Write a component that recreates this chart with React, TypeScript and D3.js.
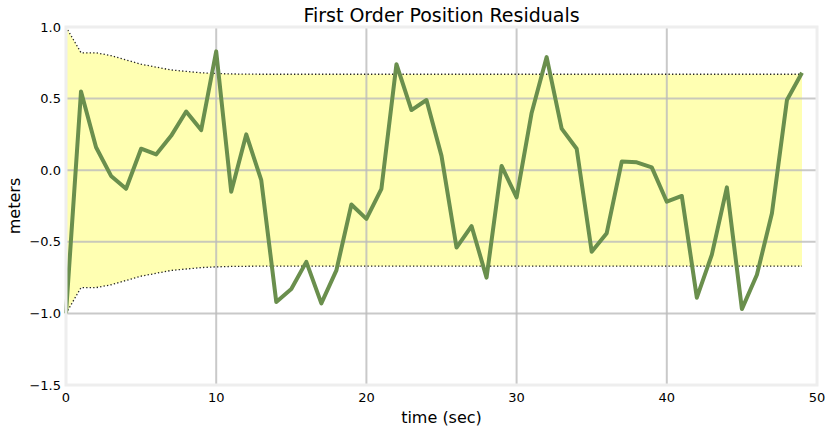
import { useEffect, useRef } from 'react';
import * as d3 from 'd3';

const residuals = [
  -1.0, 0.55, 0.16, -0.04, -0.13, 0.15, 0.11, 0.24, 0.41, 0.28,
  0.83, -0.15, 0.25, -0.07, -0.92, -0.83, -0.64, -0.93, -0.7, -0.24,
  -0.34, -0.13, 0.74, 0.42, 0.49, 0.1, -0.54, -0.39, -0.75, 0.03,
  -0.19, 0.4, 0.79, 0.29, 0.15, -0.57, -0.44, 0.06, 0.055, 0.02,
  -0.22, -0.18, -0.89, -0.59, -0.12, -0.97, -0.73, -0.3, 0.49, 0.68,
];
const stdBand = [
  1.0, 0.82, 0.82, 0.8, 0.77, 0.74, 0.72, 0.7, 0.69, 0.68,
  0.675, 0.672, 0.671, 0.67, 0.67, 0.67, 0.67, 0.67, 0.67, 0.67,
  0.67, 0.67, 0.67, 0.67, 0.67, 0.67, 0.67, 0.67, 0.67, 0.67,
  0.67, 0.67, 0.67, 0.67, 0.67, 0.67, 0.67, 0.67, 0.67, 0.67,
  0.67, 0.67, 0.67, 0.67, 0.67, 0.67, 0.67, 0.67, 0.67, 0.67,
];
const xTicks = [0, 10, 20, 30, 40, 50];
const yTicks = [-1.5, -1.0, -0.5, 0.0, 0.5, 1.0];

export default function App() {
  const svgRef = useRef<SVGSVGElement>(null);

  useEffect(() => {
    const svg = d3.select(svgRef.current);
    svg.selectAll('*').remove();
    const width = 832;
    const height = 433;
    const left = 66, right = 817, top = 27, bottom = 385;
    const font = 'DejaVu Sans, sans-serif';

    const x = d3.scaleLinear().domain([0, 50]).range([left, right]);
    const y = d3.scaleLinear().domain([-1.5, 1.0]).range([bottom, top]);

    svg.attr('width', width).attr('height', height);
    svg.append('rect').attr('width', width).attr('height', height).attr('fill', 'white');

    const g = svg.append('g');
    const idx = d3.range(residuals.length);

    // band
    g.append('path')
      .datum(idx)
      .attr('fill', '#ffffb2')
      .attr('d', d3.area<number>().x((i) => x(i)).y0((i) => y(-stdBand[i])).y1((i) => y(stdBand[i]))(idx));

    // grid
    xTicks.forEach((t) => {
      g.append('line').attr('x1', x(t)).attr('x2', x(t)).attr('y1', top).attr('y2', bottom)
        .attr('stroke', '#bbbbbb').attr('stroke-opacity', 0.8).attr('stroke-width', 2);
    });
    yTicks.forEach((t) => {
      g.append('line').attr('x1', left).attr('x2', right).attr('y1', y(t)).attr('y2', y(t))
        .attr('stroke', '#bbbbbb').attr('stroke-opacity', 0.8).attr('stroke-width', 2);
    });

    // std dotted lines
    [1, -1].forEach((s) => {
      g.append('path')
        .attr('fill', 'none').attr('stroke', '#222').attr('stroke-width', 1.3)
        .attr('stroke-dasharray', '1.3,2.2')
        .attr('d', d3.line<number>().x((i) => x(i)).y((i) => y(s * stdBand[i]))(idx));
    });

    // residual line
    g.append('path')
      .attr('fill', 'none').attr('stroke', '#6a8f4d').attr('stroke-width', 4).attr('stroke-linejoin', 'round')
      .attr('d', d3.line<number>().x((i) => x(i)).y((i) => y(residuals[i]))(idx));

    // frame
    g.append('rect').attr('x', left).attr('y', top).attr('width', right - left).attr('height', bottom - top)
      .attr('fill', 'none').attr('stroke', '#eeeeee').attr('stroke-width', 3);

    xTicks.forEach((t) => {
      g.append('text').attr('x', x(t)).attr('y', bottom + 17).attr('text-anchor', 'middle')
        .attr('font-family', font).attr('font-size', 13).text(t);
    });
    yTicks.forEach((t) => {
      g.append('text').attr('x', left - 5).attr('y', y(t)).attr('dy', '0.35em').attr('text-anchor', 'end')
        .attr('font-family', font).attr('font-size', 13).text(d3.format('.1f')(t).replace('-', '\u2212'));
    });

    g.append('text').attr('x', (left + right) / 2).attr('y', 22).attr('text-anchor', 'middle')
      .attr('font-family', font).attr('font-size', 19).text('First Order Position Residuals');
    g.append('text').attr('x', (left + right) / 2).attr('y', 423).attr('text-anchor', 'middle')
      .attr('font-family', font).attr('font-size', 16).text('time (sec)');
    g.append('text').attr('transform', `translate(20, ${(top + bottom) / 2}) rotate(-90)`).attr('text-anchor', 'middle')
      .attr('font-family', font).attr('font-size', 16).text('meters');
  }, []);

  return <svg ref={svgRef} style={{ position: 'absolute', left: 0, top: 0 }} />;
}
